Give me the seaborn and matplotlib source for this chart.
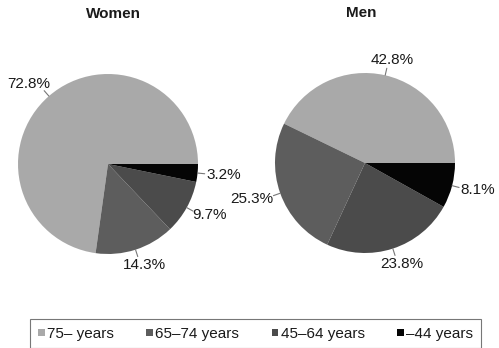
import numpy as np
import matplotlib
matplotlib.use('Agg')
import matplotlib.pyplot as plt
import seaborn as sns

# ---- data ----
groups = ['75– years', '65–74 years', '45–64 years', '–44 years']
women = [72.8, 14.3, 9.7, 3.2]
men = [42.8, 25.3, 23.8, 8.1]
titles = ['Women', 'Men']
colors = ['#a9a9a9', '#5d5d5d', '#4b4b4b', '#050505']

# ---- style ----
sns.set_theme(style='white')
plt.rcParams['font.family'] = ['Liberation Sans', 'DejaVu Sans']
plt.rcParams['text.color'] = '#1a1a1a'

W, H = 499, 348
fig = plt.figure(figsize=(W / 100, H / 100), dpi=100)
R = 90
centers = [(108, 164), (365, 163)]
title_x = [0.53, 0.48]
palette = sns.color_palette(colors)

renderer = fig.canvas.get_renderer()
wedges_all = None
for (cx, cy), vals, title, tx in zip(centers, [women, men], titles, title_x):
    ax = fig.add_axes([(cx - R) / W, (H - cy - R) / H, 2 * R / W, 2 * R / H])
    wedges, _ = ax.pie(vals, colors=palette, startangle=0, counterclock=True,
                       radius=1, wedgeprops=dict(linewidth=0))
    if wedges_all is None:
        wedges_all = wedges
    ax.set_xlim(-1, 1)
    ax.set_ylim(-1, 1)
    ax.axis('off')
    for w, v in zip(wedges, vals):
        ang = np.deg2rad((w.theta1 + w.theta2) / 2)
        c, s = np.cos(ang), np.sin(ang)
        ax.plot([c * 1.0, c * 1.08], [s * 1.0, s * 1.08], color='#777777',
                lw=0.8, clip_on=False)
        t = ax.text(c * 1.1, s * 1.1, f'{v:.1f}%', ha='center', va='center',
                    fontsize=11, clip_on=False)
        bb = t.get_window_extent(renderer=renderer)
        t.set_position((c * 1.1 + bb.width / 2 * c / R,
                        s * 1.1 + bb.height / 2 * s / R))
    ax.set_title(title, fontsize=11, fontweight='bold', pad=40, x=tx)

leg = fig.legend(wedges_all, groups, ncol=4, loc='upper left',
                 bbox_to_anchor=(30 / W, 0, 451 / W, 1 - 319 / H),
                 mode='expand', borderaxespad=0, fontsize=11,
                 handlelength=0.45, handleheight=0.3, handletextpad=0.15,
                 frameon=True, fancybox=False, edgecolor='#555555',
                 borderpad=0.5)
leg.get_frame().set_linewidth(0.8)

fig.savefig('out.png', dpi=100)
